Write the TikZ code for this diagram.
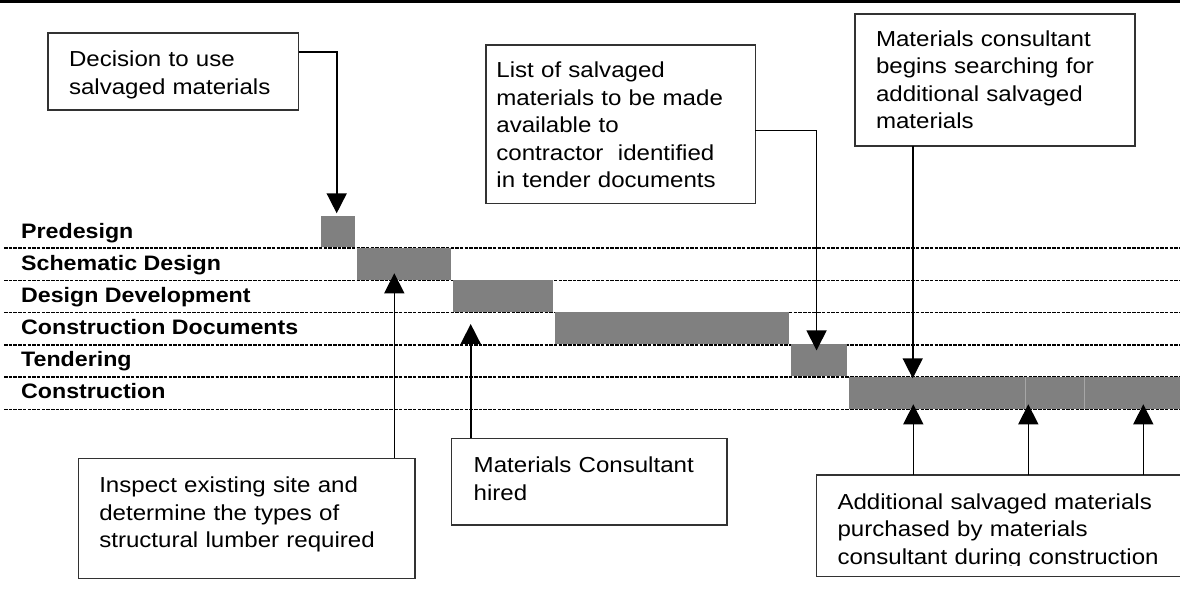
\documentclass[tikz,border=0pt]{standalone}
\usepackage{fontspec}
\setmainfont{Liberation Sans}[FakeStretch=1.11]
\usetikzlibrary{arrows.meta}
\definecolor{barg}{RGB}{128,128,128}
\definecolor{boxline}{RGB}{50,50,50}
\tikzset{
  bar/.style={fill=barg, draw=none, inner sep=0pt, outer sep=0pt, anchor=north west},
  rowline/.style={line width=1.6pt, dash pattern=on 3.5pt off 1.2pt},
  seprule/.style={draw=black!35, line width=0.8pt},
  lbl/.style={font=\bfseries\fontsize{20.9}{27.5}\selectfont, anchor=base west, inner sep=0pt},
  txt/.style={font=\fontsize{21.7}{27.5}\selectfont, align=left},
  box/.style={txt, draw=boxline, line width=1.4pt, anchor=north west, inner ysep=0pt, outer sep=0pt},
  arr/.style={line width=1.6pt, -{Triangle[length=20pt,width=20pt]}},
}
\begin{document}
\begin{tikzpicture}[x=1pt,y=-1pt]
\useasboundingbox (0,0) rectangle (1180,601);
\clip (0,0) rectangle (1180,601);
% top rule
\fill[black] (0,0) rectangle (1180,3.2);
% row lines
\foreach \yy in {248.3,280.5,312.7,344.9,377.1,409.3}
  \draw[rowline] (4,\yy) -- (1180,\yy);
% bars
\node[bar, minimum width=34pt, minimum height=31pt] (pre) at (321,216.5) {};
\node[bar, minimum width=93.7pt, minimum height=32pt] (sd) at (357.3,248) {};
\node[bar, minimum width=99.7pt, minimum height=32pt] (dd) at (453.3,280.2) {};
\node[bar, minimum width=233.6pt, minimum height=32pt] (cd) at (555,312.3) {};
\node[bar, minimum width=55.7pt, minimum height=32pt] (tend) at (791,344.4) {};
\node[bar, minimum width=340pt, minimum height=32pt] (con) at (849,376.5) {};
\draw[seprule] (1025.7,376.5) -- (1025.7,408.5);
\draw[seprule] (1084.3,376.5) -- (1084.3,408.5);
% row labels
\node[lbl] (lpre) at (21,238.3) {Predesign};
\node[lbl] (lsd) at (21,270.3) {Schematic Design};
\node[lbl] (ldd) at (21,302.5) {Design Development};
\node[lbl] (lcd) at (21,334.4) {Construction Documents};
\node[lbl] (ltend) at (21,366.6) {Tendering};
\node[lbl] (lcon) at (21,398.8) {Construction};
% boxes
\node[box, inner xsep=21.2pt, text width=208.5pt, text height=34pt, text depth=43pt] (b1) at (47.8,33)
  {Decision to use\\salvaged materials};
\node[box, inner xsep=10.4pt, text width=248.5pt, text height=33pt, text depth=125.3pt] (b2) at (486,45)
  {List of salvaged\\materials to be made\\available to\\contractor\ \ identified\\in tender documents};
\node[box, inner xsep=21pt, text width=238pt, text height=32.5pt, text depth=99.5pt] (b3) at (855,14)
  {Materials consultant\\begins searching for\\additional salvaged\\materials};
\node[box, inner xsep=21pt, text width=294.7pt, text height=34.5pt, text depth=85.5pt] (b4) at (78.3,458.3)
  {Inspect existing site and\\determine the types of\\structural lumber required};
\node[box, inner xsep=22pt, text width=231.3pt, text height=34.2pt, text depth=52.5pt] (b5) at (451.7,438.3)
  {Materials Consultant\\hired};
\node[draw=boxline, line width=1.4pt, inner sep=0pt, outer sep=0pt, anchor=north west,
      minimum width=380pt, minimum height=101.7pt] (b6) at (816.7,475) {};
\begin{scope}
  \clip (810,470) rectangle (1180,565.5);
  \node[txt, text width=340pt, anchor=base west, inner sep=0pt] (b6t) at (837.3,509)
    {Additional salvaged materials\\purchased by materials\\consultant during construction};
\end{scope}
% arrows
\draw[arr] ([yshift=-19pt]b1.north east) -| ([xshift=-1.3pt,yshift=3.2pt]pre.north);
\draw[arr] ([yshift=-85.7pt]b2.north east) -| ([xshift=-2.3pt,yshift=-6pt]tend.north);
\draw[arr] ([xshift=57.7pt]b3.south west) -- ++(0,232.3);
\draw[arr] ([xshift=-20.7pt]b4.north east) -- ++(0,-185);
\draw[arr] ([xshift=19pt]b5.north west) -- ++(0,-114.3);
\draw[arr] ([xshift=96.6pt]b6.north west) -- ++(0,-70.7);
\draw[arr] ([xshift=211.6pt]b6.north west) -- ++(0,-70.7);
\draw[arr] ([xshift=326.6pt]b6.north west) -- ++(0,-70.7);
\end{tikzpicture}
\end{document}
